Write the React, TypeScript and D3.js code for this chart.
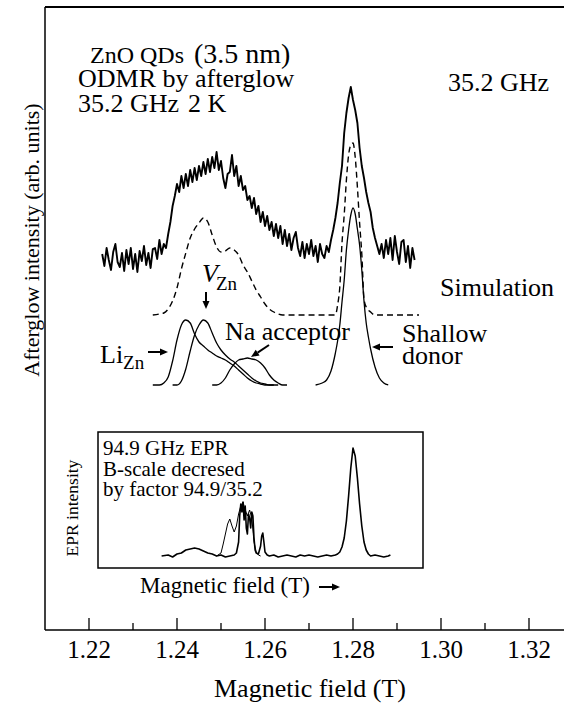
import * as d3 from "d3";

// ODMR by afterglow, sampled every 0.5 mT from 1.2230 T (baseline-subtracted, arb. units)
const ODMR_START = 1.223;
const ODMR_STEP = 0.0005;
const odmrValues = [
  4, -8, 10, -2, -12, 6, 14, -4, -9, 5, -13, 8, -6, 10, -11, 4, -14, 7, -3, 12, -7, 5, -10, 9, 10, -1, 18, 4, 14,
  10, 24, 36, 52, 62, 74,
  66, 82, 70, 84, 72, 88, 76, 90, 78, 92, 82, 96, 84, 99, 86, 101, 90, 106, 88, 97, 80,
  70, 84, 86, 103, 82, 92, 72, 82, 68, 72, 58, 62, 50, 60, 44, 52,
  36, 46, 32, 42, 28, 36, 22, 34, 20, 32, 14, 28, 12, 24, 8, 20, 26, 10,
  2, 16, 0, 14, 4, 18, 2, 12, -4, 14, 4, 0, 12, 6,
  18, 28, 40, 55, 75, 92, 125, 145, 160, 171, 158, 148, 135, 110, 92, 80, 66, 55, 46, 30, 20, 12, 4,
  14, 0, 18, 4, 20, -2, 22, 6, -6, 16, 18, -4, 12, -10, 10, -2,
];

// simulated total spectrum (dashed)
const simulation: [number, number][] = [
  [1.2345, 0], [1.236, 1], [1.237, 2], [1.238, 6], [1.239, 14], [1.24, 27], [1.241, 46],
  [1.242, 62], [1.243, 77], [1.244, 86], [1.245, 92], [1.246, 97], [1.247, 93], [1.248, 80],
  [1.249, 68], [1.25, 63], [1.251, 64], [1.252, 67], [1.253, 65], [1.254, 60], [1.255, 50],
  [1.256, 43], [1.257, 34], [1.258, 25], [1.259, 18], [1.26, 11], [1.261, 6], [1.262, 3],
  [1.263, 1], [1.264, 0], [1.276, 0], [1.2765, 10], [1.277, 28], [1.2775, 72], [1.278, 100],
  [1.2785, 135], [1.279, 160], [1.2795, 170], [1.28, 172], [1.2805, 158], [1.281, 128],
  [1.2815, 92], [1.282, 61], [1.2825, 16], [1.283, 8], [1.284, 3], [1.285, 0], [1.295, 0],
];

// individual components
const liZn: [number, number][] = [
  [1.2345, 0], [1.236, 0], [1.237, 2], [1.238, 8], [1.239, 24], [1.24, 45], [1.241, 60],
  [1.242, 65], [1.243, 62], [1.244, 51], [1.245, 43], [1.246, 39], [1.247, 35], [1.248, 32],
  [1.249, 29], [1.25, 27], [1.251, 25], [1.252, 22], [1.253, 19], [1.254, 15], [1.255, 11],
  [1.256, 7], [1.257, 4], [1.258, 2], [1.259, 1], [1.26, 0], [1.262, 0],
];
const vZn: [number, number][] = [
  [1.239, 0], [1.24, 0], [1.241, 4], [1.242, 16], [1.243, 34], [1.244, 50], [1.245, 60],
  [1.246, 65], [1.247, 62], [1.248, 52], [1.249, 42], [1.25, 35], [1.251, 30], [1.252, 26],
  [1.253, 23], [1.254, 19], [1.255, 15], [1.256, 11], [1.257, 7], [1.258, 4], [1.259, 2],
  [1.26, 1], [1.261, 0], [1.263, 0],
];
const naAcceptor: [number, number][] = [
  [1.248, 0], [1.249, 0], [1.25, 2], [1.251, 7], [1.252, 15], [1.253, 21], [1.254, 25],
  [1.255, 26], [1.256, 27], [1.257, 26], [1.258, 25], [1.259, 22], [1.26, 17], [1.261, 10],
  [1.262, 5], [1.263, 2], [1.264, 0], [1.265, 0],
];
const shallowDonor: [number, number][] = [
  [1.2715, 0], [1.273, 2], [1.274, 5], [1.275, 14], [1.276, 32], [1.2765, 44], [1.277, 60],
  [1.2775, 83], [1.278, 105], [1.2785, 135], [1.279, 155], [1.2795, 170], [1.28, 177],
  [1.2805, 171], [1.281, 156], [1.2815, 140], [1.282, 115], [1.2825, 84], [1.283, 62],
  [1.2835, 48], [1.284, 36], [1.285, 18], [1.286, 7], [1.287, 2], [1.288, 0],
];

// inset: 94.9 GHz EPR, field rescaled
const eprMain: [number, number][] = [
  [1.2365, 0], [1.238, 1], [1.239, -1], [1.24, 2], [1.241, 3], [1.242, 6], [1.243, 7],
  [1.244, 8], [1.245, 7], [1.246, 5], [1.247, 3], [1.248, 2], [1.249, 0], [1.25, 1],
  [1.251, -1], [1.252, 0], [1.253, 1], [1.2535, 3], [1.254, 14], [1.25425, 40], [1.2545, 52],
  [1.25475, 44], [1.255, 54], [1.25525, 36], [1.2555, 50], [1.25575, 28], [1.256, 22],
  [1.25625, 42], [1.2565, 38], [1.25675, 28], [1.257, 44], [1.25725, 40], [1.2575, 18],
  [1.25775, 6], [1.258, 3], [1.2585, 2], [1.259, 10], [1.25925, 20], [1.2595, 23],
  [1.25975, 14], [1.26, 4], [1.2605, 1], [1.261, 0], [1.262, 1], [1.263, -1], [1.264, 0],
  [1.265, 1], [1.266, 0], [1.267, -1], [1.268, 1], [1.269, 0], [1.27, 1], [1.271, 0],
  [1.272, -1], [1.273, 0], [1.274, 1], [1.275, 0], [1.276, 1], [1.2765, 2], [1.277, 4],
  [1.2775, 9], [1.278, 18], [1.2785, 35], [1.279, 60], [1.2795, 88], [1.28, 108],
  [1.2805, 100], [1.281, 78], [1.2815, 52], [1.282, 30], [1.2825, 14], [1.283, 6],
  [1.2835, 2], [1.284, 0], [1.285, 1], [1.286, 0], [1.287, -1], [1.288, 0], [1.2885, 1],
];
const eprSecond: [number, number][] = [
  [1.249, 0], [1.25, 3], [1.2505, 12], [1.251, 22], [1.2515, 32], [1.252, 37], [1.2525, 30],
  [1.253, 24], [1.2535, 30], [1.254, 42], [1.2545, 50], [1.255, 54], [1.2555, 46],
  [1.256, 40], [1.2565, 46], [1.257, 38], [1.2575, 14], [1.258, 4], [1.2585, 1], [1.259, 0],
];

const majorTicks = [1.22, 1.24, 1.26, 1.28, 1.3, 1.32];
const minorTicks = [1.23, 1.25, 1.27, 1.29, 1.31];

// vertical offsets of the stacked traces (arb. units)
const OFFSET_ODMR = 372;
const OFFSET_SIM = 315;
const OFFSET_COMP = 245;

const FONT = "Liberation Serif, Times New Roman, serif";

function Arrow({ x1, y1, x2, y2 }: { x1: number; y1: number; x2: number; y2: number }) {
  const a = Math.atan2(y2 - y1, x2 - x1);
  const head = 8;
  const half = 3.5;
  const bx = x2 - head * Math.cos(a);
  const by = y2 - head * Math.sin(a);
  const px = -Math.sin(a) * half;
  const py = Math.cos(a) * half;
  return (
    <g>
      <line x1={x1} y1={y1} x2={bx} y2={by} stroke="#000" strokeWidth={2} />
      <polygon points={`${x2},${y2} ${bx + px},${by + py} ${bx - px},${by - py}`} fill="#000" />
    </g>
  );
}

export default function App() {
  const width = 564;
  const height = 703;

  const x = d3.scaleLinear().domain([1.21, 1.33]).range([45, 573]);
  const y = d3.scaleLinear().domain([0, 623]).range([630, 7]);
  const yInset = d3.scaleLinear().domain([0, 110]).range([556, 446]);

  const odmr: [number, number][] = odmrValues.map((v, i) => [ODMR_START + i * ODMR_STEP, v]);

  const mainLine = (offset: number, curve: d3.CurveFactory) =>
    d3
      .line<[number, number]>()
      .x((d) => x(d[0]))
      .y((d) => y(d[1] + offset))
      .curve(curve);

  const insetLine = d3
    .line<[number, number]>()
    .x((d) => x(d[0]))
    .y((d) => yInset(d[1]));

  const axisY = y(0);

  return (
    <svg
      width={width}
      height={height}
      style={{ position: "absolute", left: 0, top: 0, background: "#fff", fontFamily: FONT }}
    >
      <rect width={width} height={height} fill="#fff" />

      {/* frame */}
      <line x1={45} y1={7} x2={width} y2={7} stroke="#000" strokeWidth={2} />
      <line x1={45} y1={7} x2={45} y2={axisY} stroke="#000" strokeWidth={1.5} />
      <line x1={45} y1={axisY} x2={width} y2={axisY} stroke="#000" strokeWidth={1.5} />

      {majorTicks.map((t) => (
        <g key={t}>
          <line x1={x(t)} x2={x(t)} y1={axisY} y2={axisY - 12} stroke="#000" strokeWidth={1.3} />
          <text x={x(t)} y={658} fontSize={25} textAnchor="middle">
            {t.toFixed(2)}
          </text>
        </g>
      ))}
      {minorTicks.map((t) => (
        <line key={t} x1={x(t)} x2={x(t)} y1={axisY} y2={axisY - 7} stroke="#000" strokeWidth={1.3} />
      ))}

      <text x={310} y={697} fontSize={26} textAnchor="middle">
        Magnetic field (T)
      </text>
      <text transform="translate(39,240) rotate(-90)" fontSize={22} textAnchor="middle">
        Afterglow intensity (arb. units)
      </text>

      {/* traces */}
      <path d={mainLine(OFFSET_ODMR, d3.curveLinear)(odmr) ?? ""} fill="none" stroke="#000" strokeWidth={1.9} strokeLinejoin="round" />
      <path
        d={mainLine(OFFSET_SIM, d3.curveMonotoneX)(simulation) ?? ""}
        fill="none"
        stroke="#000"
        strokeWidth={1.4}
        strokeDasharray="6 4"
      />
      {[liZn, vZn, naAcceptor, shallowDonor].map((c, i) => (
        <path key={i} d={mainLine(OFFSET_COMP, d3.curveMonotoneX)(c) ?? ""} fill="none" stroke="#000" strokeWidth={1.3} />
      ))}

      {/* labels */}
      <text x={90} y={63} fontSize={24}>ZnO QDs</text>
      <text x={194} y={63} fontSize={28}>(3.5 nm)</text>
      <text x={78} y={87} fontSize={26}>ODMR by afterglow</text>
      <text x={78} y={112} fontSize={26}>35.2 GHz</text>
      <text x={188} y={112} fontSize={26}>2 K</text>
      <text x={448} y={91} fontSize={26}>35.2 GHz</text>
      <text x={440} y={296} fontSize={26}>Simulation</text>

      <text x={202} y={282} fontSize={26} fontStyle="italic">V</text>
      <text x={216} y={290} fontSize={19}>Zn</text>
      <Arrow x1={206} y1={292} x2={206} y2={309} />

      <text x={100} y={363} fontSize={26}>
        Li
        <tspan fontSize={19} dy={6}>Zn</tspan>
      </text>
      <Arrow x1={148} y1={352} x2={168} y2={352} />

      <text x={225} y={340} fontSize={26}>Na acceptor</text>
      <Arrow x1={269} y1={345} x2={251} y2={357} />

      <text x={402} y={342} fontSize={26}>Shallow</text>
      <text x={402} y={364} fontSize={26}>donor</text>
      <Arrow x1={393} y1={347} x2={372} y2={347} />

      {/* inset */}
      <rect x={98} y={432} width={325} height={136} fill="none" stroke="#000" strokeWidth={1.5} />
      <text x={103} y={455} fontSize={21}>94.9 GHz EPR</text>
      <text x={103} y={476} fontSize={21}>B-scale decresed</text>
      <text x={103} y={496} fontSize={21}>by factor 94.9/35.2</text>
      <path d={insetLine(eprSecond) ?? ""} fill="none" stroke="#000" strokeWidth={1} />
      <path d={insetLine(eprMain) ?? ""} fill="none" stroke="#000" strokeWidth={1.6} strokeLinejoin="round" />
      <text transform="translate(78,508) rotate(-90)" fontSize={17.5} textAnchor="middle">
        EPR intensity
      </text>
      <text x={140} y={593} fontSize={23}>Magnetic field (T)</text>
      <Arrow x1={319} y1={587} x2={340} y2={587} />
    </svg>
  );
}
